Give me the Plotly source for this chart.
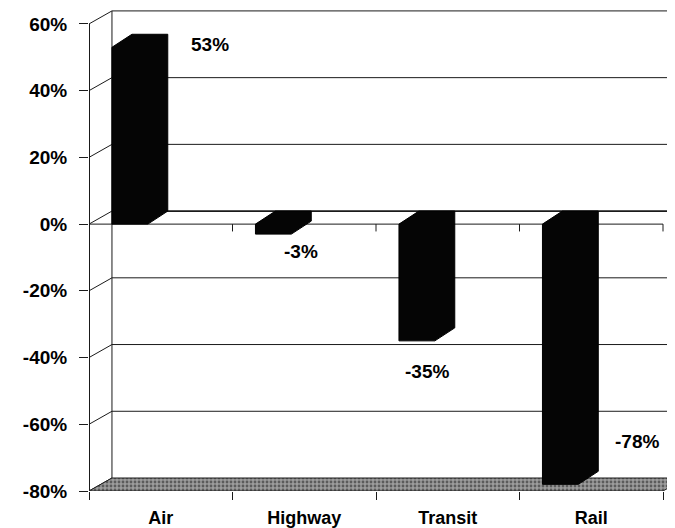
import plotly.graph_objects as go

# ---- data ----
categories = ["Air", "Highway", "Transit", "Rail"]
values = [53, -3, -35, -78]
value_labels = ["53%", "-3%", "-35%", "-78%"]
y_tick_values = [-80, -60, -40, -20, 0, 20, 40, 60]
y_tick_labels = ["-80%", "-60%", "-40%", "-20%", "0%", "20%", "40%", "60%"]

# ---- style / geometry ----
FONT = "Liberation Sans, Arial, sans-serif"
LINE = "#1a1a1a"
WALL_DX, WALL_DY = 0.160, 3.9      # depth offset of back wall (category units, %)
BAR_DX, BAR_DY = 0.139, 3.9        # depth offset of bars
BAR_L, BAR_R = -0.34, -0.09        # front face edges relative to category centre
LABEL_OFF = [(0.343, 0.7), (-0.023, -5.1), (-0.145, -9.2), (0.319, 12.9)]

ymin, ymax = y_tick_values[0], y_tick_values[-1]
n = len(categories)
xl, xr = -0.5, n - 0.5

fig = go.Figure()

def seg(xs, ys, width=1, color=LINE):
    fig.add_trace(go.Scatter(x=xs, y=ys, mode="lines",
                             line=dict(color=color, width=width),
                             hoverinfo="skip", showlegend=False))

# back wall gridlines
for g in y_tick_values[1:]:
    seg([xl + WALL_DX, xr + WALL_DX + 0.5], [g + WALL_DY, g + WALL_DY],
        width=1.6 if g == 0 else 1)
# side wall diagonals
for g in y_tick_values:
    seg([xl, xl + WALL_DX], [g, g + WALL_DY])
# back-left vertical edge
seg([xl + WALL_DX, xl + WALL_DX], [ymin + WALL_DY, ymax + WALL_DY])
# front vertical axis
seg([xl, xl], [ymin, ymax], width=2)

# floor
fig.add_trace(go.Scatter(
    x=[xl, xr, xr + WALL_DX, xl + WALL_DX, xl],
    y=[ymin, ymin, ymin + WALL_DY, ymin + WALL_DY, ymin],
    mode="lines", fill="toself",
    fillcolor="#7a7a7a",
    fillpattern=dict(shape=".", bgcolor="#9c9c9c", fgcolor="#1a1a1a",
                     size=4, solidity=0.4),
    line=dict(color="#222222", width=1),
    hoverinfo="skip", showlegend=False))

# front zero line with boundary ticks
seg([xl, xr], [0, 0])
for b in range(n + 1):
    seg([xl + b, xl + b], [0, -2.2])

# bars (3D silhouettes)
for i, v in enumerate(values):
    top, bot = max(v, 0), min(v, 0)
    L, R = i + BAR_L, i + BAR_R
    fig.add_trace(go.Scatter(
        x=[L, L, L + BAR_DX, R + BAR_DX, R + BAR_DX, R, L],
        y=[bot, top, top + BAR_DY, top + BAR_DY, bot + BAR_DY, bot, bot],
        mode="lines", fill="toself", fillcolor="#050505",
        line=dict(color="#000000", width=1),
        hoverinfo="skip", showlegend=False))

# value labels
for i, (v, t) in enumerate(zip(values, value_labels)):
    dx, dy = LABEL_OFF[i]
    fig.add_annotation(x=i + dx, y=v + dy, text=t, showarrow=False,
                       font=dict(family=FONT, size=19, color="#000",
                                 weight="bold"),
                       xanchor="center", yanchor="middle")

# page body has an 8px margin: figure is sized to fill the rest of the window
fig.update_layout(
    width=667, height=520,
    margin=dict(l=81, r=0, t=0, b=35),
    paper_bgcolor="white", plot_bgcolor="white",
    font=dict(family=FONT, size=18, color="#000"),
    showlegend=False,
    xaxis=dict(range=[xl, xl + 586 / 143.5], showgrid=False,
               zeroline=False, showline=False,
               tickmode="array", tickvals=list(range(n)), ticktext=categories,
               ticks="", ticklabelstandoff=14,
               tickfont=dict(family=FONT, size=18, weight="bold"),
               minor=dict(tickmode="array",
                          tickvals=[xl + b for b in range(n + 1)],
                          ticks="outside", ticklen=8, tickcolor=LINE,
                          showgrid=False),
               fixedrange=True),
    yaxis=dict(range=[ymin, ymin + 485 / 3.35], showgrid=False,
               zeroline=False, showline=False,
               tickmode="array", tickvals=y_tick_values, ticktext=y_tick_labels,
               ticks="outside", ticklen=9, tickcolor=LINE,
               ticklabelstandoff=8,
               tickfont=dict(family=FONT, size=19, weight="bold"),
               fixedrange=True),
)

fig.write_html("out.html")
